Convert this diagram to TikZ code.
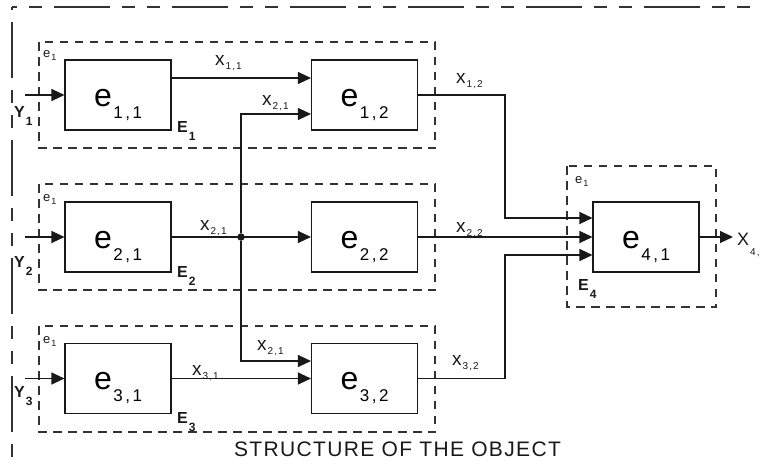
\documentclass[tikz,border=0pt]{standalone}
\usepackage{fontspec}
\setmainfont{Liberation Sans}
\usetikzlibrary{arrows.meta}
\definecolor{ink}{RGB}{25,25,25}
\colorlet{dashink}{black!80}
% label builders
\newcommand{\elab}[2]{{\fontsize{32}{32}\selectfont e}\kern1.5pt\raisebox{-12pt}{\fontsize{17}{17}\selectfont #1\kern2.5pt,\kern2.5pt#2}}
\newcommand{\xlab}[2]{{\fontsize{19}{19}\selectfont x}\kern1pt\raisebox{-4pt}{\fontsize{10}{10}\selectfont #1\kern1pt,\kern1pt#2}}
\newcommand{\blab}[2]{{\fontsize{16}{16}\selectfont\bfseries #1}\kern1pt\raisebox{-8pt}{\fontsize{12}{12}\selectfont\bfseries #2}}
\newcommand{\glab}{{\fontsize{13}{13}\selectfont e}\kern1pt\raisebox{-3pt}{\fontsize{9}{9}\selectfont 1}}
\tikzset{
  >={Triangle[length=13pt,width=12pt]},
  elem/.style={draw=ink,line width=1.1pt,inner sep=0pt,minimum width=106pt,
               minimum height=70pt,text height=35pt,text depth=13pt},
  grp/.style={draw=dashink,line width=1.1pt,dash pattern=on 8.5pt off 6.5pt},
  frame/.style={draw=dashink,line width=1.2pt,
                dash pattern=on 56pt off 12pt on 13pt off 12pt on 13pt off 12pt},
  flow/.style={->,draw=ink,line width=1.1pt},
  lbl/.style={anchor=base west,inner sep=0pt,text=ink},
  dot/.style={circle,fill=ink,inner sep=0pt,minimum size=7.5pt},
  title/.style={anchor=base,inner sep=0pt,text=ink,
                font=\fontsize{21}{21}\selectfont\addfontfeatures{LetterSpace=6.5}},
}
\begin{document}
\begin{tikzpicture}[x=1pt,y=1pt]
  \useasboundingbox (0,0) rectangle (761,-466);

  % outer frame, only top and left edges
  \draw[frame,dash phase=84pt] (12,-466) -- (12,-7);
  \draw[frame,dash phase=76pt] (12,-7) -- (761,-7);

  % dashed groups
  \draw[grp] (39,-42) rectangle (435,-148);
  \draw[grp] (39,-184) rectangle (435,-290);
  \draw[grp] (39,-326) rectangle (435,-432);
  \draw[grp] (567,-166) rectangle (716,-307);

  % elements
  \node[elem] (e11) at (118,-95)    {\elab{1}{1}};
  \node[elem] (e12) at (364.5,-95)  {\elab{1}{2}};
  \node[elem] (e21) at (118,-237)   {\elab{2}{1}};
  \node[elem] (e22) at (364.5,-237) {\elab{2}{2}};
  \node[elem] (e31) at (118,-378.5) {\elab{3}{1}};
  \node[elem] (e32) at (364.5,-378.5) {\elab{3}{2}};
  \node[elem] (e41) at (646,-237)   {\elab{4}{1}};

  % group labels
  \node[lbl] (g1) at (43,-57)  {\glab};
  \node[lbl] (g2) at (43,-201) {\glab};
  \node[lbl] (g3) at (43,-343) {\glab};
  \node[lbl] (g4) at (575,-183) {\glab};
  \node[lbl] (E1) at (177,-132) {\blab{E}{1}};
  \node[lbl] (E2) at (177,-277) {\blab{E}{2}};
  \node[lbl] (E3) at (177,-423) {\blab{E}{3}};
  \node[lbl] (E4) at (578,-290) {\blab{E}{4}};
  \node[lbl] (Y1) at (14,-117) {\blab{Y}{1}};
  \node[lbl] (Y2) at (14,-267) {\blab{Y}{2}};
  \node[lbl] (Y3) at (14,-397) {\blab{Y}{3}};

  % signal labels
  \node[lbl] (l11) at (215,-65)  {\xlab{1}{1}};
  \node[lbl] (l21a) at (262,-105) {\xlab{2}{1}};
  \node[lbl] (l12) at (456,-83)  {\xlab{1}{2}};
  \node[lbl] (l21b) at (200,-230) {\xlab{2}{1}};
  \node[lbl] (l22) at (456,-232) {\xlab{2}{2}};
  \node[lbl] (l21c) at (257,-350) {\xlab{2}{1}};
  \node[lbl] (l31) at (192,-375) {\xlab{3}{1}};
  \node[lbl] (l32) at (452,-365) {\xlab{3}{2}};
  \node[lbl] (l41) at (737,-245)
    {{\fontsize{18}{18}\selectfont X}\kern1pt\raisebox{-10pt}{\fontsize{10}{10}\selectfont 4\kern1pt,\kern1pt1}};

  % inputs
  \coordinate (y1in) at (25,-95);
  \coordinate (y2in) at (25,-237);
  \coordinate (y3in) at (25,-378.5);
  \draw[flow] (y1in) -- (e11.west);
  \draw[flow] (y2in) -- (e21.west);
  \draw[flow] (y3in) -- (e31.west);

  % links between elements
  \draw[flow] ([yshift=17pt]e11.east) -- ([yshift=17pt]e12.west);
  \draw[flow] (e21) -- (e22);
  \draw[flow] (e31) -- (e32);
  \node[dot] (split) at (241,-237) {};
  \draw[flow] (split) |- ([yshift=-19pt]e12.west);
  \draw[flow] (split) |- ([yshift=17.5pt]e32.west);

  % collection into e41
  \coordinate (jx) at (505,0);
  \draw[flow] (e12.east) -- (e12.east -| jx) |- ([yshift=19pt]e41.west);
  \draw[flow] (e22) -- (e41);
  \draw[flow] (e32.east) -- (e32.east -| jx) |- ([yshift=-18pt]e41.west);
  \coordinate (xout) at (733,-237);
  \draw[flow] (e41.east) -- (xout);

  \node[title] (ttl) at (397.5,-456) {STRUCTURE OF THE OBJECT};
\end{tikzpicture}
\end{document}
